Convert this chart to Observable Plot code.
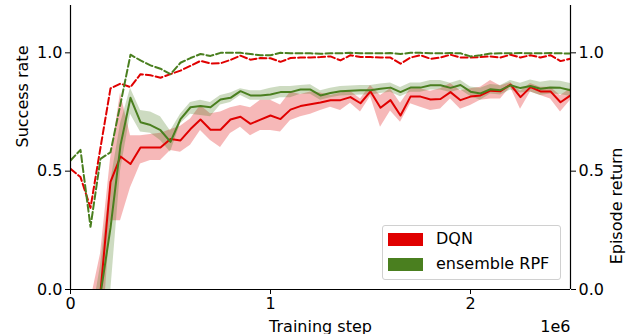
<!DOCTYPE html>
<html>
<head>
<meta charset="utf-8">
<script src="https://cdn.jsdelivr.net/npm/d3@7"></script>
<script src="https://cdn.jsdelivr.net/npm/@observablehq/plot@0.6"></script>
<style>
  html, body { margin: 0; padding: 0; background: white; }
  #wrap { position: relative; width: 638px; height: 334px; font-family: "DejaVu Sans", sans-serif; }
  #legend { position: absolute; left: 382px; top: 225px; width: 177px; height: 53px;
    border: 1px solid #d0d0d0; border-radius: 3px; background: rgba(255,255,255,0.85); font-size: 16px; }
  .item { position: absolute; left: 5px; height: 14px; }
  .sw { position: absolute; left: 0; top: 0; width: 35px; height: 13px; }
  .lab { position: absolute; left: 48px; top: -4px; white-space: nowrap; color: #000; line-height: 20px; }
</style>
</head>
<body>
<div id="wrap"></div>
<script>
// Training steps (x)
const steps = [0,50000,100000,150000,200000,250000,300000,350000,400000,450000,
  500000,550000,600000,650000,700000,750000,800000,850000,900000,950000,
  1000000,1050000,1100000,1150000,1200000,1250000,1300000,1350000,1400000,1450000,
  1500000,1550000,1600000,1650000,1700000,1750000,1800000,1850000,1900000,1950000,
  2000000,2050000,2100000,2150000,2200000,2250000,2300000,2350000,2400000,2450000,2500000];

const seriesNames = ["DQN", "ensemble RPF"];
const seriesColors = ["#e00000", "#4a7f1f"];

// DQN success rate (mean, lower, upper)
const dqnSuccess = [null,null,-0.3,-0.01,0.455,0.562,0.53,0.60,0.60,0.60,
  0.636,0.63,0.678,0.718,0.675,0.675,0.718,0.73,0.70,0.718,
  0.735,0.72,0.76,0.775,0.783,0.79,0.80,0.80,0.813,0.787,
  0.837,0.768,0.80,0.735,0.815,0.815,0.803,0.805,0.834,0.80,
  0.815,0.82,0.84,0.838,0.866,0.813,0.855,0.837,0.837,0.791,0.82];
const dqnLow = [null,null,-0.6,-0.3,0.29,0.29,0.43,0.53,0.545,0.545,
  0.587,0.58,0.61,0.672,0.63,0.60,0.659,0.686,0.65,0.672,
  0.672,0.665,0.714,0.73,0.74,0.756,0.77,0.756,0.787,0.75,
  0.815,0.686,0.754,0.707,0.785,0.77,0.756,0.763,0.805,0.762,
  0.777,0.80,0.805,0.805,0.855,0.762,0.834,0.82,0.805,0.75,0.80];
const dqnHigh = [null,null,-0.05,0.15,0.55,0.83,0.65,0.65,0.655,0.66,
  0.675,0.69,0.72,0.777,0.743,0.75,0.768,0.777,0.768,0.80,
  0.80,0.78,0.834,0.824,0.834,0.83,0.82,0.83,0.838,0.805,
  0.862,0.82,0.848,0.787,0.848,0.848,0.838,0.848,0.87,0.84,
  0.848,0.855,0.883,0.86,0.875,0.838,0.87,0.855,0.855,0.82,0.848];

// ensemble RPF success rate (mean, lower, upper)
const rpfSuccess = [null,null,-0.45,-0.02,0.26,0.61,0.81,0.707,0.695,0.673,
  0.624,0.72,0.77,0.775,0.77,0.803,0.81,0.838,0.82,0.82,
  0.824,0.834,0.834,0.845,0.845,0.82,0.83,0.838,0.84,0.842,
  0.842,0.848,0.853,0.834,0.853,0.853,0.863,0.863,0.852,0.864,
  0.836,0.828,0.846,0.842,0.863,0.851,0.86,0.848,0.854,0.852,0.842];
const rpfLow = [null,null,-0.8,-0.25,-0.02,0.5,0.74,0.665,0.66,0.63,
  0.58,0.70,0.74,0.735,0.73,0.78,0.79,0.82,0.80,0.80,
  0.80,0.81,0.81,0.825,0.825,0.80,0.81,0.818,0.82,0.822,
  0.822,0.828,0.833,0.814,0.833,0.833,0.843,0.843,0.832,0.844,
  0.816,0.80,0.826,0.822,0.843,0.83,0.835,0.82,0.826,0.824,0.815];
const rpfHigh = [null,null,-0.15,0.1,0.45,0.7,0.85,0.756,0.75,0.73,
  0.67,0.74,0.79,0.80,0.79,0.82,0.83,0.848,0.84,0.84,
  0.85,0.858,0.858,0.862,0.865,0.84,0.85,0.858,0.86,0.862,
  0.862,0.868,0.873,0.854,0.873,0.873,0.883,0.883,0.872,0.884,
  0.856,0.85,0.866,0.862,0.883,0.872,0.885,0.876,0.882,0.88,0.87];

// Episode return (dashed, right axis)
const dqnReturn = [0.51,0.475,0.345,0.60,0.85,0.87,0.855,0.91,0.905,0.895,
  0.91,0.925,0.945,0.966,0.955,0.956,0.97,0.988,0.971,0.978,
  0.977,0.962,0.978,0.98,0.98,0.982,0.985,0.968,0.99,0.982,
  0.982,0.98,0.98,0.954,0.98,0.99,0.975,0.98,0.992,0.98,
  0.98,0.982,0.985,0.98,0.992,0.98,0.99,0.98,0.99,0.965,0.975];
const rpfReturn = [0.545,0.59,0.265,0.552,0.58,0.785,0.992,0.968,0.947,0.933,
  0.91,0.958,0.978,0.995,0.987,1.0,1.0,1.0,0.995,0.99,
  0.99,1.0,0.998,0.998,0.998,0.996,0.998,0.998,1.0,0.998,
  0.998,0.998,0.999,0.995,1.0,1.0,0.998,0.998,0.999,0.998,
  0.985,0.99,0.997,0.998,0.998,0.999,0.998,0.998,0.999,0.998,0.997];

const yTicks = [0, 0.5, 1.0];
const xTicks = [0, 1000000, 2000000];

const rows = steps.map((s, i) => ({
  step: s,
  dS: dqnSuccess[i], dL: dqnLow[i], dH: dqnHigh[i],
  rS: rpfSuccess[i], rL: rpfLow[i], rH: rpfHigh[i],
  dR: dqnReturn[i], rR: rpfReturn[i]
}));
const succRows = rows.filter(d => d.dS != null);

const red = seriesColors[0], green = seriesColors[1];
const fmt = d3.format(".1f");

const chart = Plot.plot({
  width: 638,
  height: 334,
  marginLeft: 70,
  marginRight: 68,
  marginTop: 5,
  marginBottom: 45,
  style: { fontSize: "16px", fontFamily: "DejaVu Sans, sans-serif", background: "white", color: "black", overflow: "visible" },
  x: { domain: [0, 2500000] },
  y: { domain: [0, 1.2] },
  marks: [
    Plot.areaY(succRows, { x: "step", y1: "dL", y2: "dH", fill: red, fillOpacity: 0.28, clip: true }),
    Plot.areaY(succRows, { x: "step", y1: "rL", y2: "rH", fill: green, fillOpacity: 0.28, clip: true }),
    Plot.lineY(succRows, { x: "step", y: "dS", stroke: red, strokeWidth: 2, clip: true }),
    Plot.lineY(succRows, { x: "step", y: "rS", stroke: green, strokeWidth: 2, clip: true }),
    Plot.lineY(rows, { x: "step", y: "dR", stroke: red, strokeWidth: 2, strokeDasharray: "7,3", clip: true }),
    Plot.lineY(rows, { x: "step", y: "rR", stroke: green, strokeWidth: 2, strokeDasharray: "7,3", clip: true }),
    Plot.ruleX([0, 2500000], { stroke: "black", strokeWidth: 1.2 }),
    Plot.ruleY([0], { stroke: "black", strokeWidth: 1.2 }),
    Plot.axisY({ anchor: "left", ticks: yTicks, tickFormat: fmt, tickSize: 5, tickPadding: 3, label: null }),
    Plot.axisY({ anchor: "right", ticks: yTicks, tickFormat: fmt, tickSize: 5, tickPadding: 3, label: null }),
    Plot.axisX({ ticks: xTicks, tickFormat: d => String(d / 1000000), tickSize: 5, tickPadding: 3, label: null }),
    Plot.text(["Success rate"], { text: d => d, frameAnchor: "left", dx: -48, rotate: -90, fontSize: 16 }),
    Plot.text(["Episode return"], { text: d => d, frameAnchor: "right", dx: 46, rotate: -90, fontSize: 16 }),
    Plot.text(["Training step"], { text: d => d, frameAnchor: "bottom", lineAnchor: "bottom", dy: 42, fontSize: 16 }),
    Plot.text(["1e6"], { text: d => d, frameAnchor: "bottom-right", textAnchor: "end", lineAnchor: "bottom", dy: 42, fontSize: 16 })
  ]
});

const wrap = document.getElementById("wrap");
wrap.appendChild(chart);

const legend = document.createElement("div");
legend.id = "legend";
seriesNames.forEach((name, i) => {
  const item = document.createElement("div");
  item.className = "item";
  item.style.top = (7 + i * 25) + "px";
  item.innerHTML = `<div class="sw" style="background:${seriesColors[i]}"></div><div class="lab">${name}</div>`;
  legend.appendChild(item);
});
wrap.appendChild(legend);
</script>
</body>
</html>
